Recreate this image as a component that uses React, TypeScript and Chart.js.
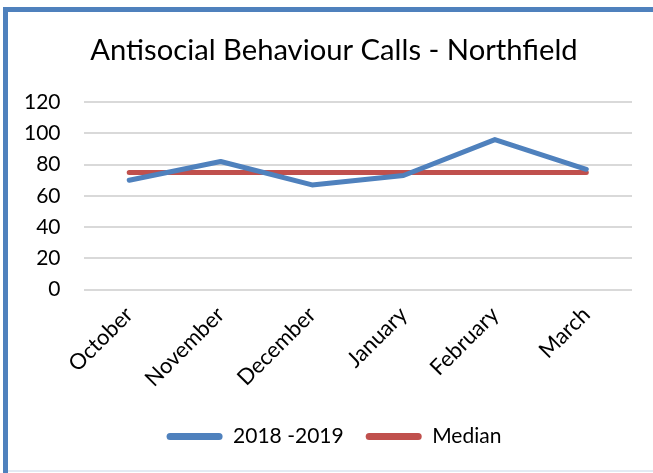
import React, { useEffect, useRef } from "react";
import { Chart, registerables } from "chart.js";

Chart.register(...registerables);

const months = ["October", "November", "December", "January", "February", "March"];
const calls = [70, 82, 67, 73, 96, 77];
const median = [75, 75, 75, 75, 75, 75];
const yTicks = [0, 20, 40, 60, 80, 100, 120];

const FONT = "Lato, 'Open Sans', sans-serif";

// shifts the centred title and legend to the right, as in the original
const shiftPlugin = {
  id: "shiftBlocks",
  afterLayout(chart: any) {
    const dx = 17.5;
    for (const blk of [chart.titleBlock, chart.legend]) {
      if (blk) {
        blk.left += dx;
        blk.right += dx;
      }
    }
  },
};

export default function App() {
  const ref = useRef<HTMLCanvasElement | null>(null);
  useEffect(() => {
    if (!ref.current) return;
    const chart = new Chart(ref.current, {
      type: "line",
      data: {
        labels: months,
        datasets: [
          {
            label: "2018 -2019",
            data: calls,
            borderColor: "#4F81BD",
            backgroundColor: "#4F81BD",
            borderWidth: 5,
            pointRadius: 0,
            tension: 0,
            borderCapStyle: "round",
            borderJoinStyle: "round",
          },
          {
            label: "Median",
            data: median,
            borderColor: "#C0504D",
            backgroundColor: "#C0504D",
            borderWidth: 5,
            pointRadius: 0,
            tension: 0,
            borderCapStyle: "round",
          },
        ],
      },
      plugins: [shiftPlugin],
      options: {
        animation: false,
        responsive: false,
        maintainAspectRatio: false,
        layout: { padding: { left: 1, right: 21, top: 25, bottom: 16 } },
        plugins: {
          title: {
            display: true,
            text: "Antisocial Behaviour Calls - Northfield",
            color: "#000",
            font: { family: FONT, size: 29.2, weight: "normal" },
            padding: { top: 8, bottom: 34 },
          },
          legend: {
            position: "bottom",
            labels: {
              color: "#000",
              font: { family: FONT, size: 21 },
              boxWidth: 56,
              boxHeight: 7,
              useBorderRadius: true,
              borderRadius: 3.5,
              padding: 22,
              generateLabels: (c: any) =>
                c.data.datasets.map((ds: any, i: number) => ({
                  text: ds.label,
                  fillStyle: ds.borderColor,
                  strokeStyle: ds.borderColor,
                  lineWidth: 0,
                  hidden: false,
                  datasetIndex: i,
                  fontColor: "#000",
                  borderRadius: 3.5,
                })),
            },
          },
          tooltip: { enabled: false },
        },
        scales: {
          x: {
            offset: true,
            grid: { display: false, drawTicks: false },
            border: { display: false },
            ticks: {
              color: "#000",
              font: { family: FONT, size: 22 },
              minRotation: 45,
              maxRotation: 45,
              padding: 12,
            },
          },
          y: {
            min: 0,
            max: 120,
            afterBuildTicks: (axis: any) => {
              axis.ticks = yTicks.map((v) => ({ value: v }));
            },
            grid: { color: "#D9D9D9", lineWidth: 2, drawTicks: false },
            border: { display: false },
            ticks: {
              color: "#000",
              font: { family: FONT, size: 21 },
              padding: 23,
            },
          },
        },
      },
    });
    return () => chart.destroy();
  }, []);

  return (
    <div style={{ position: "absolute", left: 0, top: 0, width: 653, height: 473, background: "#fff" }}>
      <canvas ref={ref} width={653} height={473} style={{ position: "absolute", left: 0, top: 0 }} />
      <div style={{ position: "absolute", left: 3, top: 7, width: 650, height: 5, background: "#4F81BD" }} />
      <div style={{ position: "absolute", left: 3, top: 7, width: 5, height: 466, background: "#4F81BD" }} />
      <div style={{ position: "absolute", left: 8, top: 470, width: 645, height: 2, background: "#E3EAF3" }} />
    </div>
  );
}
